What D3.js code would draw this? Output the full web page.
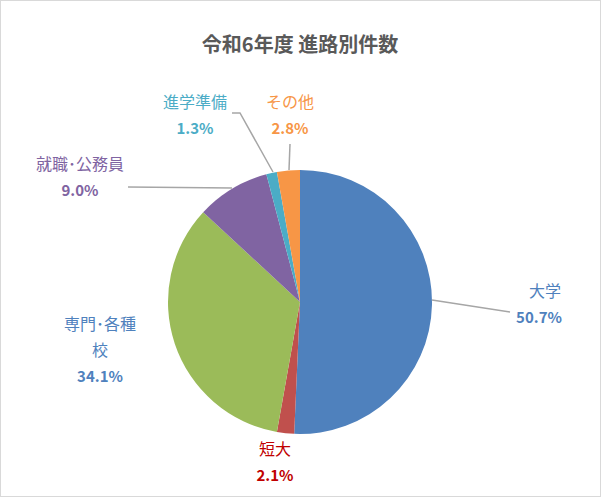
<!DOCTYPE html>
<html><head><meta charset="utf-8">
<script src="https://cdn.jsdelivr.net/npm/d3@7"></script>
<style>body{margin:0;background:#fff}</style></head>
<body><script>
const categories=["大学","短大","専門・各種校","就職・公務員","進学準備","その他"];
const values=[50.7,2.1,34.1,9.0,1.3,2.8];
const colors=["#4F81BD","#C0504D","#9BBB59","#8064A2","#4BACC6","#F79646"];
const labelColors=["#4F81BD","#C00000","#4F81BD","#8064A2","#4BACC6","#F79646"];
const nameLines=[["大学"],["短大"],["専門･各種","校"],["就職･公務員"],["進学準備"],["その他"]];
const labelPos=[[545,297,1],[275,455,1],[100,330,1],[80,170,1],[195,108,1],[290,108,1]];
const W=601,H=497,cx=300,cy=302,r=132;
const svg=d3.select("body").append("svg").attr("width",W).attr("height",H);
svg.append("rect").attr("x",0.5).attr("y",0.5).attr("width",W-1).attr("height",H-1).attr("fill","#fff").attr("stroke","#d9d9d9");
svg.append("text").attr("x",cx).attr("y",52).attr("text-anchor","middle").attr("font-family","Noto Sans CJK JP").attr("font-weight","bold").attr("font-size",20).attr("fill","#595959").text("令和6年度  進路別件数");
const pie=d3.pie().sort(null).value(d=>d)(values);
const arc=d3.arc().innerRadius(0).outerRadius(r);
const g=svg.append("g").attr("transform",`translate(${cx},${cy})`);
g.selectAll("path").data(pie).join("path").attr("d",arc).attr("fill",(d,i)=>colors[i]);
// leader lines
const lines=[[[432,300],[510,312]],null,null,[[232,188],[128,187]],[[273,172],[240,113],[232,113]],[[289,170],[290,144]]];
lines.forEach(l=>{if(l)svg.append("polyline").attr("points",l.map(p=>p.join(",")).join(" ")).attr("fill","none").attr("stroke","#a6a6a6").attr("stroke-width",1.5);});
nameLines.forEach((ls,i)=>{
 const [x,y]=labelPos[i];
 ls.forEach((t,j)=>svg.append("text").attr("x",x).attr("y",y+j*26).attr("text-anchor","middle").attr("font-family","Noto Sans CJK JP").attr("font-size",16).attr("fill",labelColors[i]).text(t));
 svg.append("text").attr("x",x-(i==0?6:0)).attr("y",y+ls.length*26+(i==0?0:0)).attr("text-anchor","middle").attr("font-family","Noto Sans CJK JP").attr("font-weight","bold").attr("font-size",15).attr("fill",labelColors[i]).text(values[i].toFixed(1)+"%");
});
</script></body></html>
